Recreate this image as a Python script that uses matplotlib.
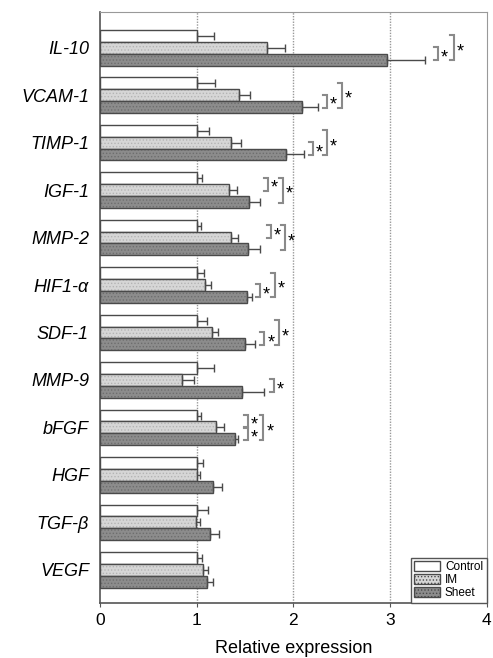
import numpy as np
import matplotlib
matplotlib.use('Agg')
import matplotlib.pyplot as plt
from matplotlib.patches import Patch

plt.rcParams['font.family'] = ['Liberation Sans', 'DejaVu Sans']
plt.rcParams['hatch.linewidth'] = 0.6

# data
genes = ['IL-10', 'VCAM-1', 'TIMP-1', 'IGF-1', 'MMP-2', 'HIF1-α',
         'SDF-1', 'MMP-9', 'bFGF', 'HGF', 'TGF-β', 'VEGF']
control = [1.0] * 12
control_err = [0.18, 0.19, 0.13, 0.05, 0.04, 0.08, 0.11, 0.18, 0.04, 0.06, 0.12, 0.05]
im = [1.73, 1.44, 1.36, 1.33, 1.35, 1.09, 1.16, 0.85, 1.20, 1.00, 0.99, 1.07]
im_err = [0.18, 0.11, 0.10, 0.09, 0.08, 0.06, 0.06, 0.12, 0.08, 0.03, 0.04, 0.05]
sheet = [2.97, 2.09, 1.92, 1.54, 1.53, 1.52, 1.50, 1.47, 1.40, 1.17, 1.14, 1.11]
sheet_err = [0.39, 0.17, 0.19, 0.11, 0.12, 0.05, 0.10, 0.23, 0.03, 0.09, 0.09, 0.06]

# significance brackets: (gene index, bar a, bar b, x position, star text)
# bars: 0=Control 1=IM 2=Sheet
brackets = [
    (0, 1, 2, 3.50, '*'), (0, 0, 2, 3.66, '*'),
    (1, 1, 2, 2.35, '*'), (1, 0, 2, 2.50, '*'),
    (2, 1, 2, 2.20, '*'), (2, 0, 2, 2.35, '*'),
    (3, 0, 1, 1.74, '*'), (3, 0, 2, 1.89, '*'),
    (4, 0, 1, 1.77, '*'), (4, 0, 2, 1.91, '*'),
    (5, 1, 2, 1.65, '*'), (5, 0, 2, 1.81, '*'),
    (6, 1, 2, 1.70, '*'), (6, 0, 2, 1.85, '*'),
    (7, 1, 2, 1.80, '*'),
    (8, 0, 1, 1.53, ''), (8, 1, 2, 1.53, ''), (8, 0, 2, 1.69, '*'),
]

fig = plt.figure(figsize=(4.93, 6.58), dpi=100)
ax = fig.add_axes([0.203, 0.0836, 0.784, 0.898])

idx = np.arange(len(genes))
pos_c = 4 * idx + 2
pos_i = pos_c + 1
pos_s = pos_c + 2
h = 1.0
edge = '#4a4a4a'
zeros = np.zeros(len(genes))

errkw = dict(ecolor=edge, elinewidth=1.0, capsize=3, capthick=1.0)
series = [
    ('Control', pos_c, control, control_err, 'white', None, None),
    ('IM', pos_i, im, im_err, '#d6d6d6', '#b4b4b4', '.....'),
    ('Sheet', pos_s, sheet, sheet_err, '#8c8c8c', '#6e6e6e', '.....'),
]
for name, pos, vals, err, fc, hc, hatch in series:
    if hatch:
        ax.barh(pos, vals, height=h, color=fc, edgecolor=hc, linewidth=0, hatch=hatch, zorder=3)
    ax.barh(pos, vals, height=h, color=fc if not hatch else 'none', edgecolor=edge,
            linewidth=1.0, xerr=[zeros, err], error_kw=errkw, zorder=3)

# brackets with stars
for g, a, b, x, star in brackets:
    y1 = pos_c[g] + a - 0.05
    y2 = pos_c[g] + b + 0.05
    ax.plot([x - 0.04, x, x, x - 0.04], [y1, y1, y2, y2], color='#8a8a8a', lw=1.5,
            solid_joinstyle='miter', zorder=4)
    if star:
        ax.text(x + 0.03, (y1 + y2) / 2 + 0.35, star, fontsize=13, ha='left', va='center', zorder=5)
# bFGF stacked stars share one text
ax.text(1.53 + 0.03, pos_i[8] + 0.35, '*\n*', fontsize=13, ha='left', va='center',
        linespacing=0.72, zorder=5)

ax.set_xlim(0, 4)
ax.set_ylim(49.8, 0)
ax.set_xticks([0, 1, 2, 3, 4])
ax.tick_params(axis='x', labelsize=12.5, length=3, color='#555555', pad=4)
ax.set_yticks(pos_i)
ax.set_yticklabels(genes, fontsize=13, style='italic')
ax.tick_params(axis='y', length=0, pad=8)
ax.set_xlabel('Relative expression', fontsize=13, labelpad=9)

for xv in [1, 2, 3]:
    ax.axvline(xv, color='#999999', lw=1.0, ls=(0, (1, 1)), zorder=1)

for side in ['top', 'right']:
    ax.spines[side].set_color('#999999')
for side in ['left', 'bottom']:
    ax.spines[side].set_color('#555555')
    ax.spines[side].set_linewidth(1.2)

handles = [Patch(facecolor='white', edgecolor=edge, label='Control'),
           Patch(facecolor='#d6d6d6', edgecolor=edge, hatch='.....', label='IM'),
           Patch(facecolor='#8c8c8c', edgecolor=edge, hatch='.....', label='Sheet')]
leg = ax.legend(handles=handles, loc='lower right', fontsize=8.5, fancybox=False,
                framealpha=1, edgecolor='#555555', borderpad=0.3, labelspacing=0.1,
                handlelength=2.2, handleheight=0.9, handletextpad=0.4,
                borderaxespad=0.0)
leg.get_frame().set_linewidth(1.0)

fig.savefig('out.png', dpi=100)
